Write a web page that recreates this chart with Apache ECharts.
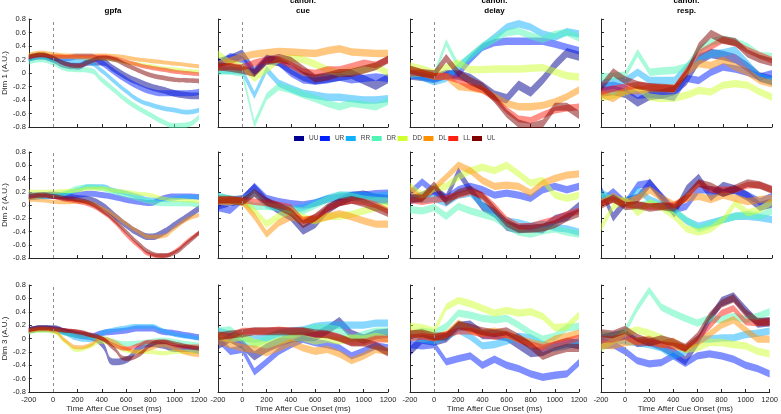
<!DOCTYPE html>
<html>
<head>
<meta charset="utf-8">
<script src="https://cdn.jsdelivr.net/npm/echarts@6/dist/echarts.min.js"></script>
<style>
  html, body { margin: 0; padding: 0; background: #fff; }
  #chart { width: 781px; height: 414px; }
</style>
</head>
<body>
<div id="chart"></div>
<script>
// time axis (ms after cue onset) shared by every trace
const times = [-200, -100, 0, 100, 200, 300, 400, 500, 600, 700, 800, 900, 1000, 1100, 1200]
const conditions = ['UU', 'UR', 'RR', 'DR', 'DD', 'DL', 'LL', 'UL']
const methods = ['gpfa', 'canon.\ncue', 'canon.\ndelay', 'canon.\nresp.']
const dimLabels = ['Dim 1 (A.U.)', 'Dim 2 (A.U.)', 'Dim 3 (A.U.)']

// total band thickness per condition (A.U.)
const gpfaWidth = [0.1, 0.09, 0.07, 0.08, 0.06, 0.06, 0.06, 0.07]
const canonWidth = [0.14, 0.11, 0.11, 0.11, 0.11, 0.11, 0.1, 0.12]

// band centres, rows in conditions order: UU UR RR DR DD DL LL UL
const gpfa1 = [
  [0.22, 0.25, 0.2, 0.12, 0.1, 0.16, 0.16, 0.06, -0.05, -0.13, -0.2, -0.25, -0.3, -0.33, -0.34],
  [0.22, 0.25, 0.22, 0.22, 0.24, 0.24, 0.15, 0.02, -0.1, -0.2, -0.27, -0.3, -0.3, -0.3, -0.28],
  [0.2, 0.24, 0.2, 0.17, 0.17, 0.15, 0.03, -0.12, -0.27, -0.4, -0.47, -0.52, -0.55, -0.58, -0.55],
  [0.17, 0.2, 0.15, 0.07, 0.05, 0.04, -0.1, -0.25, -0.4, -0.52, -0.62, -0.72, -0.78, -0.77, -0.65],
  [0.25, 0.28, 0.25, 0.24, 0.23, 0.22, 0.22, 0.2, 0.16, 0.13, 0.1, 0.07, 0.05, 0.03, 0.02],
  [0.27, 0.3, 0.28, 0.26, 0.26, 0.26, 0.26, 0.25, 0.23, 0.2, 0.18, 0.16, 0.14, 0.12, 0.1],
  [0.23, 0.26, 0.25, 0.24, 0.24, 0.24, 0.24, 0.22, 0.17, 0.12, 0.08, 0.05, 0.02, 0, -0.02],
  [0.24, 0.27, 0.22, 0.14, 0.11, 0.17, 0.22, 0.2, 0.12, 0.04, -0.03, -0.07, -0.1, -0.11, -0.12]
]
const cue1 = [
  [0.15, 0.2, 0.28, 0.02, 0.2, 0.17, 0.05, -0.05, -0.1, -0.07, -0.05, -0.02, -0.1, -0.18, -0.08],
  [0.12, 0.24, 0.2, 0, 0.22, 0.16, 0, -0.1, -0.12, -0.1, -0.06, -0.1, -0.08, -0.06, -0.08],
  [0.05, 0.04, 0.03, -0.33, 0.05, -0.15, -0.23, -0.3, -0.33, -0.36, -0.36, -0.38, -0.4, -0.4, -0.38],
  [0.03, 0.03, 0, -0.76, -0.35, -0.2, -0.25, -0.32, -0.38, -0.45, -0.5, -0.45, -0.47, -0.5, -0.42],
  [0.28, 0.15, 0.1, -0.08, 0.05, 0.2, 0.22, 0.2, 0.13, 0.05, 0, 0.03, 0.05, 0.1, 0],
  [0.12, 0.18, 0.24, 0.28, 0.3, 0.32, 0.31, 0.3, 0.29, 0.33, 0.36, 0.31, 0.3, 0.29, 0.29],
  [0.08, 0.1, 0.08, 0.15, 0.2, 0.2, 0.12, 0.02, 0, 0.05, 0.05, 0.1, 0.15, 0.12, 0.2],
  [0.1, 0.08, 0.05, 0, 0.18, 0.22, 0.18, 0.05, -0.08, -0.05, 0, 0, 0.05, 0.1, 0.2]
]
const delay1 = [
  [-0.03, -0.05, -0.08, -0.02, -0.03, -0.08, -0.2, -0.33, -0.38, -0.18, -0.28, -0.1, 0.12, 0.3, 0.25],
  [-0.02, -0.05, -0.08, -0.03, -0.02, 0.2, 0.38, 0.45, 0.47, 0.47, 0.47, 0.47, 0.43, 0.38, 0.33],
  [-0.01, -0.06, -0.13, -0.08, 0.09, 0.24, 0.39, 0.53, 0.68, 0.73, 0.68, 0.58, 0.53, 0.61, 0.58],
  [-0.01, 0, -0.03, 0.45, 0.1, 0.25, 0.4, 0.5, 0.6, 0.62, 0.55, 0.5, 0.57, 0.6, 0.52],
  [0.1, 0.06, 0, 0.08, 0.15, 0.05, 0.05, 0.06, 0.06, 0.06, 0.07, 0.08, 0.02, -0.04, -0.06],
  [0.05, 0, -0.05, -0.05, -0.2, -0.22, -0.25, -0.35, -0.45, -0.5, -0.5, -0.48, -0.43, -0.35, -0.25],
  [0, 0, -0.05, -0.05, -0.1, -0.2, -0.25, -0.37, -0.55, -0.68, -0.7, -0.62, -0.55, -0.52, -0.5],
  [0.05, 0, -0.02, 0.22, 0, -0.12, -0.2, -0.38, -0.6, -0.75, -0.8, -0.75, -0.5, -0.5, -0.62]
]
const resp1 = [
  [-0.28, -0.26, -0.3, -0.43, -0.33, -0.31, -0.26, -0.11, 0.19, 0.29, 0.26, 0.21, 0.09, -0.06, -0.11],
  [-0.21, -0.18, -0.23, -0.33, -0.31, -0.33, -0.36, -0.08, -0.11, 0.01, 0.09, 0.06, 0.01, -0.06, -0.01],
  [-0.16, -0.13, -0.11, 0.01, -0.11, -0.11, -0.11, 0.09, 0.24, 0.28, 0.3, 0.34, 0.14, -0.06, -0.11],
  [-0.06, -0.05, -0.03, 0.3, 0.01, 0.03, 0.04, 0.09, 0.34, 0.46, 0.5, 0.46, 0.39, 0.26, 0.24],
  [-0.36, -0.33, -0.28, -0.21, -0.36, -0.38, -0.37, -0.33, -0.26, -0.28, -0.18, -0.16, -0.18, -0.28, -0.36],
  [-0.31, -0.38, -0.26, -0.26, -0.23, -0.23, -0.23, 0.01, 0.14, 0.11, 0.19, 0.09, 0.01, -0.11, -0.16],
  [-0.28, -0.23, -0.21, -0.18, -0.2, -0.22, -0.23, 0.04, 0.29, 0.39, 0.49, 0.44, 0.34, 0.26, 0.19],
  [-0.21, 0.01, -0.11, -0.18, -0.21, -0.22, -0.23, -0.01, 0.39, 0.58, 0.49, 0.46, 0.29, 0.21, 0.16]
]
const gpfa2 = [
  [0.12, 0.14, 0.15, 0.13, 0.1, 0.08, 0, -0.15, -0.3, -0.42, -0.48, -0.42, -0.3, -0.18, -0.05],
  [0.14, 0.15, 0.14, 0.13, 0.15, 0.17, 0.15, 0.12, 0.08, 0.05, 0.03, 0.1, 0.13, 0.13, 0.12],
  [0.12, 0.12, 0.13, 0.17, 0.22, 0.28, 0.28, 0.22, 0.18, 0.13, 0.08, 0.08, 0.1, 0.12, 0.12],
  [0.12, 0.14, 0.15, 0.18, 0.25, 0.27, 0.25, 0.2, 0.15, 0.1, 0.05, 0.02, 0.02, 0.02, 0],
  [0.2, 0.2, 0.2, 0.21, 0.22, 0.25, 0.25, 0.22, 0.2, 0.17, 0.15, 0.1, 0.08, 0.07, 0.05],
  [0.08, 0.07, 0.05, 0.04, 0.05, 0.03, -0.05, -0.15, -0.28, -0.4, -0.48, -0.47, -0.35, -0.22, -0.15],
  [0.12, 0.14, 0.12, 0.08, 0.05, 0, -0.1, -0.25, -0.45, -0.62, -0.75, -0.77, -0.7, -0.55, -0.42],
  [0.13, 0.15, 0.13, 0.1, 0.08, 0.03, -0.08, -0.22, -0.4, -0.58, -0.72, -0.76, -0.72, -0.58, -0.42]
]
const cue2 = [
  [0, 0.05, 0.08, 0.25, 0.05, -0.07, -0.17, -0.38, -0.28, -0.07, 0.05, 0.13, 0.15, 0.1, 0.08],
  [-0.04, -0.08, 0.08, 0.28, 0.1, 0.05, 0.02, 0, 0.03, 0.09, 0.12, 0.14, 0.15, 0.17, 0.18],
  [0.13, 0.09, 0.08, 0.18, 0, -0.04, -0.07, -0.04, 0.03, 0.1, 0.15, 0.15, 0.14, 0.13, 0.15],
  [0.13, 0.09, 0.05, -0.02, -0.02, -0.04, -0.07, -0.09, 0, 0.08, 0.15, 0.13, 0.09, 0.07, 0.05],
  [0.08, 0.07, 0.05, -0.09, -0.29, -0.17, -0.09, -0.19, -0.24, -0.17, -0.17, -0.14, -0.09, -0.04, -0.02],
  [0.05, 0.06, 0.05, -0.17, -0.44, -0.27, -0.18, -0.22, -0.22, -0.18, -0.13, -0.18, -0.24, -0.29, -0.29],
  [0.08, 0.08, 0.08, 0.05, 0.03, 0, -0.04, -0.24, -0.19, -0.07, 0.03, 0.07, 0.05, 0, -0.09],
  [0.08, 0.08, 0.05, 0.18, 0.05, -0.02, -0.11, -0.29, -0.19, -0.04, 0.04, 0.08, 0.03, -0.04, -0.12]
]
const delay2 = [
  [0.08, 0.13, 0.23, 0.1, 0.5, 0.23, -0.02, -0.12, -0.32, -0.36, -0.34, -0.36, -0.22, -0.17, -0.02],
  [0.18, 0.35, 0.2, 0.1, 0.23, 0.28, 0.23, 0.15, 0.18, 0.15, 0.1, 0.23, 0.28, 0.23, 0.28],
  [0.1, 0.08, 0.1, 0.03, 0.15, 0.18, 0, -0.14, -0.24, -0.27, -0.32, -0.29, -0.34, -0.36, -0.41],
  [-0.07, -0.09, -0.04, -0.17, -0.02, -0.09, -0.14, -0.19, -0.32, -0.41, -0.44, -0.39, -0.36, -0.41, -0.44],
  [0.28, 0.15, 0.25, 0.28, 0.42, 0.52, 0.57, 0.52, 0.6, 0.47, 0.33, 0.37, 0.15, 0.1, 0.15],
  [0.23, 0.1, 0.25, 0.42, 0.6, 0.52, 0.37, 0.28, 0.3, 0.28, 0.18, 0.33, 0.4, 0.45, 0.47],
  [0.08, 0.05, 0.08, 0.1, 0.15, 0.2, 0.15, -0.02, -0.22, -0.32, -0.32, -0.27, -0.22, -0.14, -0.09],
  [0.1, 0.1, 0.3, 0.05, 0.18, 0.23, 0.13, -0.07, -0.27, -0.36, -0.36, -0.34, -0.29, -0.19, -0.12]
]
const resp2 = [
  [0.23, -0.18, 0.05, 0.1, 0.33, 0.1, -0.12, 0.23, 0.4, 0.13, 0.28, 0.23, 0.13, -0.02, 0.03],
  [0.05, 0.2, 0.03, 0.3, 0.33, 0.13, -0.07, -0.02, 0.23, 0.23, 0.18, 0.23, 0.15, 0.05, 0.13],
  [0.18, 0.1, 0.03, 0.23, 0.08, 0, -0.09, -0.24, -0.32, -0.27, -0.22, -0.17, -0.17, -0.19, -0.22],
  [0.13, 0.09, 0.05, -0.02, 0.03, -0.02, -0.09, -0.22, -0.36, -0.29, -0.22, -0.17, -0.14, -0.17, -0.09],
  [-0.34, -0.02, 0.08, -0.12, 0.03, -0.04, -0.17, -0.36, -0.41, -0.36, -0.22, 0.03, -0.12, -0.07, 0.05],
  [0.03, 0.13, 0.03, 0.1, 0.23, 0.1, 0, 0.1, 0.13, 0.08, 0.15, 0.1, 0.05, 0.08, 0.1],
  [0.03, 0.08, 0, 0, -0.02, -0.02, 0, 0.1, 0.33, 0.23, 0.23, 0.23, 0.3, 0.3, 0.23],
  [0, 0.1, -0.02, 0, -0.04, -0.02, -0.04, 0.13, 0.33, 0.28, 0.18, 0.25, 0.33, 0.3, 0.23]
]
const gpfa3 = [
  [0.12, 0.15, 0.15, 0.1, 0.06, 0.03, -0.08, -0.35, -0.32, -0.15, -0.08, -0.1, -0.15, -0.15, -0.18],
  [0.12, 0.15, 0.14, 0.1, 0.05, 0.03, 0.08, 0.1, 0.12, 0.15, 0.15, 0.1, 0.08, 0.05, 0.02],
  [0.12, 0.15, 0.14, 0.08, 0, -0.02, 0.08, 0.13, 0.16, 0.18, 0.18, 0.12, 0.06, 0.03, 0],
  [0.1, 0.13, 0.12, 0.08, 0.05, 0.03, 0, -0.05, -0.08, -0.07, -0.05, -0.03, -0.05, -0.08, -0.1],
  [0.1, 0.12, 0.1, -0.05, -0.17, -0.12, -0.05, -0.1, -0.18, -0.2, -0.2, -0.22, -0.2, -0.2, -0.2],
  [0.12, 0.14, 0.12, -0.03, -0.13, -0.1, 0, -0.05, -0.15, -0.2, -0.15, -0.1, -0.15, -0.22, -0.25],
  [0.12, 0.15, 0.14, 0.12, 0.1, 0.05, 0, -0.1, -0.15, -0.1, -0.05, -0.05, -0.1, -0.12, -0.12],
  [0.13, 0.16, 0.15, 0.12, 0.1, 0.06, 0, -0.15, -0.3, -0.25, -0.1, -0.05, -0.08, -0.12, -0.15]
]
const cue3 = [
  [-0.09, 0.01, -0.09, -0.26, -0.14, -0.06, 0.01, 0.03, 0.03, 0.13, 0.25, 0.06, -0.01, 0.06, 0.08],
  [-0.01, -0.19, -0.16, -0.5, -0.35, -0.19, -0.09, -0.01, -0.06, -0.09, -0.14, -0.26, -0.19, -0.11, -0.14],
  [0.11, 0.06, 0.01, -0.01, 0.01, 0.08, 0.11, 0.13, 0.18, 0.2, 0.2, 0.2, 0.2, 0.23, 0.23],
  [0.11, 0.13, -0.01, -0.09, -0.01, 0.06, 0.06, 0.11, 0.16, 0.16, 0.13, -0.01, 0.06, 0.11, 0.11],
  [0.03, -0.01, 0.03, -0.06, -0.1, -0.04, 0.01, 0.01, -0.04, -0.01, -0.04, 0.01, -0.01, 0.03, -0.01],
  [-0.04, -0.09, -0.14, -0.16, -0.21, -0.14, -0.06, -0.14, -0.19, -0.16, -0.23, -0.33, -0.26, -0.16, -0.19],
  [0.06, 0.03, 0.11, 0.11, 0.11, 0.13, 0.11, 0.11, 0.06, 0.06, 0.01, -0.06, -0.06, -0.01, -0.01],
  [0.03, 0.06, 0.08, 0.11, 0.11, 0.11, 0.11, 0.11, 0.08, 0.06, 0.01, -0.06, -0.06, -0.11, -0.21]
]
const delay3 = [
  [-0.19, -0.01, -0.04, 0.01, 0.18, 0.2, 0.06, 0.06, 0.03, -0.09, -0.21, -0.19, -0.11, -0.06, -0.09],
  [-0.09, -0.11, -0.09, -0.35, -0.3, -0.26, -0.4, -0.31, -0.4, -0.45, -0.53, -0.58, -0.55, -0.53, -0.36],
  [0.03, -0.01, -0.04, 0.03, 0.13, 0.03, -0.11, -0.09, -0.04, 0.03, 0.01, -0.09, -0.14, -0.11, -0.04],
  [0.06, 0.11, 0.08, 0.18, 0.38, 0.35, 0.3, 0.28, 0.3, 0.2, 0.08, -0.01, 0.03, 0.16, 0.18],
  [0.18, 0.16, 0.11, 0.47, 0.57, 0.52, 0.45, 0.38, 0.42, 0.38, 0.4, 0.33, 0.16, 0.18, 0.35],
  [0.08, 0.06, 0.01, 0.06, 0.23, 0.13, 0.08, 0.11, 0.06, -0.01, -0.06, -0.11, -0.01, 0.03, 0.08],
  [0.01, 0.03, 0.01, 0.06, 0.11, 0.11, 0.06, 0.03, 0.06, -0.01, -0.09, -0.14, -0.09, -0.04, 0.01],
  [0.06, 0.08, 0.03, 0.03, 0.2, 0.16, 0.11, 0.08, 0.11, 0.01, -0.11, -0.26, -0.19, -0.14, -0.14]
]
const resp3 = [
  [-0.01, 0.03, 0.06, -0.06, -0.04, -0.11, -0.21, -0.33, -0.06, 0.28, 0.55, 0.62, 0.42, 0.23, 0.25],
  [-0.11, -0.09, -0.19, -0.33, -0.38, -0.36, -0.26, -0.37, -0.26, -0.23, -0.26, -0.31, -0.4, -0.45, -0.53],
  [0.01, -0.01, -0.04, -0.06, -0.09, -0.14, -0.26, -0.19, -0.01, -0.01, 0.01, 0.01, 0.06, 0.08, 0.11],
  [0.06, 0.03, 0.11, 0.45, 0.72, 0.47, 0.38, 0.3, 0.23, 0.3, 0.28, 0.33, 0.28, 0.33, 0.4],
  [-0.14, -0.04, 0.08, 0.13, 0.08, 0.01, -0.09, -0.16, -0.14, -0.06, -0.06, -0.09, -0.11, -0.19, -0.23],
  [-0.09, -0.11, -0.06, -0.04, -0.01, -0.09, -0.04, -0.16, -0.06, 0.06, 0.2, 0.28, 0.13, -0.01, -0.01],
  [-0.01, -0.01, 0.03, -0.06, -0.06, -0.09, -0.11, -0.14, -0.01, 0.18, 0.38, 0.45, 0.25, 0.23, 0.25],
  [0.08, 0.06, 0.13, 0.01, -0.06, -0.01, -0.06, -0.14, 0.03, 0.33, 0.52, 0.6, 0.38, 0.25, 0.25]
]

const panels = [
  [gpfa1, cue1, delay1, resp1],
  [gpfa2, cue2, delay2, resp2],
  [gpfa3, cue3, delay3, resp3]
]

// layout / style
const colors = ['#000090', '#0020ff', '#10b0ff', '#50f5b5', '#d0ff30', '#ff9000', '#ff2010', '#800000']
const colLeft = [27, 218, 410, 601]
const colWidth = [172, 170, 169, 171]
const rowTop = [19, 152, 285]
const rowHeight = [108, 106, 107]
const axisColor = '#262626'
const font = '"Liberation Sans", Arial, sans-serif'
const onsetIndex = times.indexOf(0)

const grid = [], xAxis = [], yAxis = [], series = []

panels.forEach((row, r) => {
  row.forEach((panel, c) => {
    const idx = grid.length
    grid.push({ left: colLeft[c], top: rowTop[r], width: colWidth[c], height: rowHeight[r] })
    xAxis.push({
      type: 'category', gridIndex: idx, data: times.map(String), boundaryGap: false,
      axisLine: { onZero: false, lineStyle: { color: axisColor, width: 1 } },
      axisTick: { inside: true, length: 3, interval: 1, lineStyle: { color: axisColor } },
      axisLabel: { show: r === 2, interval: 1, fontSize: 7.5, color: axisColor, margin: 4 },
      splitLine: { show: false },
      name: r === 2 ? 'Time After Cue Onset (ms)' : '',
      nameLocation: 'middle', nameGap: 13,
      nameTextStyle: { fontSize: 8, color: axisColor }
    })
    yAxis.push({
      type: 'value', gridIndex: idx, min: -0.8, max: 0.8, interval: 0.2,
      axisLine: { show: true, onZero: false, lineStyle: { color: axisColor, width: 1 } },
      axisTick: { show: true, inside: true, length: 3, lineStyle: { color: axisColor } },
      axisLabel: {
        show: c === 0, fontSize: 7.5, color: axisColor, margin: 3,
        formatter: v => String(Math.round(v * 10) / 10)
      },
      splitLine: { show: false },
      name: c === 0 ? dimLabels[r] : '',
      nameLocation: 'middle', nameGap: 18, nameRotate: 90,
      nameTextStyle: { fontSize: 8, color: axisColor }
    })
    const widths = c === 0 ? gpfaWidth : canonWidth
    const smooth = c === 0 ? 0.5 : false
    panel.forEach((centre, s) => {
      const w = widths[s]
      const stack = `p${idx}_${s}`
      // invisible lower edge, then the band thickness stacked on it
      series.push({
        type: 'line', xAxisIndex: idx, yAxisIndex: idx,
        stack, stackStrategy: 'all', smooth, silent: true,
        symbol: 'none', lineStyle: { opacity: 0 },
        data: centre.map(v => v - w / 2)
      })
      series.push({
        name: conditions[s], type: 'line', xAxisIndex: idx, yAxisIndex: idx,
        stack, stackStrategy: 'all', smooth, silent: true,
        symbol: 'none', color: colors[s],
        lineStyle: { opacity: 0 },
        areaStyle: { color: colors[s], opacity: 0.5 },
        data: centre.map(() => w)
      })
    })
    // dashed cue-onset marker
    series.push({
      type: 'line', xAxisIndex: idx, yAxisIndex: idx, data: [], silent: true,
      markLine: {
        silent: true, symbol: 'none', label: { show: false },
        lineStyle: { type: [3, 3], color: '#8c8c8c', width: 1 },
        data: [{ xAxis: onsetIndex }]
      }
    })
  })
})

const chart = echarts.init(document.getElementById('chart'))
chart.setOption({
  animation: false,
  textStyle: { fontFamily: font },
  title: methods.map((m, c) => ({
    text: m,
    left: colLeft[c] + colWidth[c] / 2,
    top: c === 0 ? 6 : -4,
    textAlign: 'center',
    padding: 0,
    textStyle: { fontSize: 8, fontWeight: 'bold', color: '#000', lineHeight: 10, fontFamily: font }
  })),
  legend: {
    data: conditions.map((n, i) => ({ name: n, itemStyle: { color: colors[i] } })),
    left: 294, top: 135,
    icon: 'rect', itemWidth: 10, itemHeight: 5, itemGap: 1.5,
    padding: 0, selectedMode: false,
    textStyle: { fontSize: 6.5, color: '#404040', fontFamily: font }
  },
  grid, xAxis, yAxis, series
})
</script>
</body>
</html>
